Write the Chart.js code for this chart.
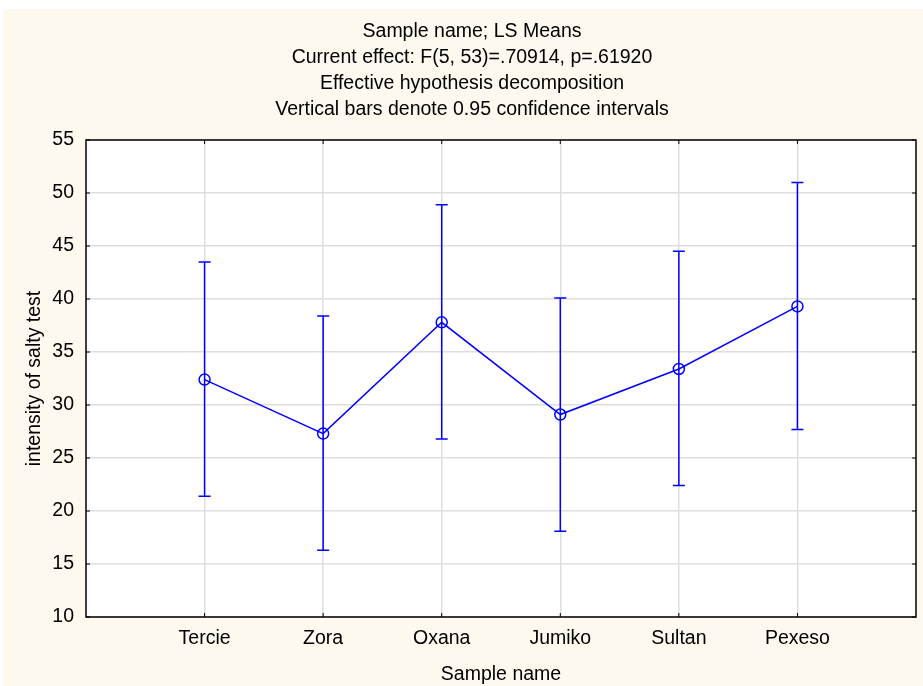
<!DOCTYPE html>
<html>
<head>
<meta charset="utf-8">
<script src="https://cdn.jsdelivr.net/npm/chart.js@4"></script>
<style>
  html, body { margin: 0; padding: 0; background: #ffffff; }
  #wrap { width: 923px; height: 686px; }
</style>
</head>
<body>
<div id="wrap"><canvas id="myChart" width="923" height="686"></canvas></div>
<script>
const categories = ["Tercie", "Zora", "Oxana", "Jumiko", "Sultan", "Pexeso"];
const means = [32.4, 27.3, 37.8, 29.1, 33.4, 39.3];
const lower = [21.4, 16.3, 26.8, 18.1, 22.4, 27.7];
const upper = [43.5, 38.4, 48.9, 40.1, 44.5, 51.0];
const yTicks = [10, 15, 20, 25, 30, 35, 40, 45, 50, 55];
const titleLines = [
  "Sample name; LS Means",
  "Current effect: F(5, 53)=.70914, p=.61920",
  "Effective hypothesis decomposition",
  "Vertical bars denote 0.95 confidence intervals"
];

const FONT = "'Liberation Sans', Arial, sans-serif";
const FSIZE = 19.5;
const BLUE = "#0000ff";

// cream page background + white plot area
const backdrop = {
  id: "backdrop",
  beforeDraw(chart) {
    const { ctx, chartArea: a } = chart;
    ctx.save();
    ctx.fillStyle = "#fdf9ee";
    ctx.fillRect(3, 9, chart.width - 3, chart.height - 9);
    ctx.fillStyle = "#ffffff";
    ctx.fillRect(a.left, a.top, a.right - a.left, a.bottom - a.top);
    ctx.restore();
  }
};

// error bars, frame and inward ticks
const errorBars = {
  id: "errorBars",
  afterDatasetsDraw(chart) {
    const { ctx, chartArea: a } = chart;
    const x = chart.scales.x, y = chart.scales.y;
    ctx.save();
    ctx.strokeStyle = BLUE;
    ctx.lineWidth = 1.5;
    categories.forEach((c, i) => {
      const px = x.getPixelForValue(i + 1);
      const top = y.getPixelForValue(upper[i]);
      const bot = y.getPixelForValue(lower[i]);
      ctx.beginPath();
      ctx.moveTo(px, top); ctx.lineTo(px, bot);
      ctx.moveTo(px - 6, top); ctx.lineTo(px + 6, top);
      ctx.moveTo(px - 6, bot); ctx.lineTo(px + 6, bot);
      ctx.stroke();
    });

    ctx.strokeStyle = "#000000";
    ctx.lineWidth = 1;
    ctx.beginPath();
    yTicks.forEach(v => {
      const py = y.getPixelForValue(v);
      ctx.moveTo(a.left, py); ctx.lineTo(a.left + 4, py);
      ctx.moveTo(a.right, py); ctx.lineTo(a.right - 4, py);
    });
    categories.forEach((c, i) => {
      const px = x.getPixelForValue(i + 1);
      ctx.moveTo(px, a.bottom); ctx.lineTo(px, a.bottom - 4);
      ctx.moveTo(px, a.top); ctx.lineTo(px, a.top + 4);
    });
    ctx.stroke();

    ctx.lineWidth = 1.5;
    ctx.strokeRect(a.left, a.top, a.right - a.left, a.bottom - a.top);
    ctx.restore();
  }
};

const points = means.map((m, i) => ({ x: i + 1, y: m }));

new Chart(document.getElementById("myChart"), {
  type: "scatter",
  data: {
    datasets: [{
      data: points,
      showLine: true,
      borderColor: BLUE,
      borderWidth: 1.5,
      pointRadius: 5.5,
      pointBorderWidth: 1.5,
      pointBorderColor: BLUE,
      pointBackgroundColor: "rgba(0,0,0,0)",
      pointHoverRadius: 5.5
    }]
  },
  options: {
    responsive: false,
    animation: false,
    events: [],
    layout: { padding: { left: 23, right: 2, top: 0, bottom: 0 } },
    plugins: {
      legend: { display: false },
      tooltip: { enabled: false },
      title: {
        display: true,
        text: titleLines,
        color: "#000000",
        font: { family: FONT, size: FSIZE, weight: "normal", lineHeight: 26 / FSIZE },
        padding: { top: 19, bottom: 17 }
      }
    },
    scales: {
      x: {
        type: "linear",
        min: 0,
        max: 7,
        afterFit(s) {
          s.height = 69;
          s.paddingLeft = 0;
          s.paddingRight = 0;
        },
        ticks: {
          stepSize: 1,
          autoSkip: false,
          maxRotation: 0,
          padding: 10,
          color: "#000000",
          font: { family: FONT, size: FSIZE },
          callback: v => categories[v - 1] || ""
        },
        grid: {
          drawTicks: false,
          lineWidth: 1.5,
          color: ctx => (ctx.tick && ctx.tick.value > 0 && ctx.tick.value < 7) ? "#dedede" : "rgba(0,0,0,0)"
        },
        border: { display: false },
        title: {
          display: true,
          text: "Sample name",
          color: "#000000",
          font: { family: FONT, size: FSIZE },
          padding: { top: 5, bottom: 0 }
        }
      },
      y: {
        min: 10,
        max: 55,
        afterFit(s) {
          s.width = 63;
          s.paddingTop = 0;
          s.paddingBottom = 0;
        },
        ticks: {
          stepSize: 5,
          padding: 12,
          color: "#000000",
          font: { family: FONT, size: FSIZE }
        },
        grid: {
          drawTicks: false,
          lineWidth: 1.5,
          color: "#dedede"
        },
        border: { display: false },
        title: {
          display: true,
          text: "intensity of salty test",
          color: "#000000",
          font: { family: FONT, size: FSIZE },
          padding: { top: 0, bottom: 4 }
        }
      }
    }
  },
  plugins: [backdrop, errorBars]
});
</script>
</body>
</html>
